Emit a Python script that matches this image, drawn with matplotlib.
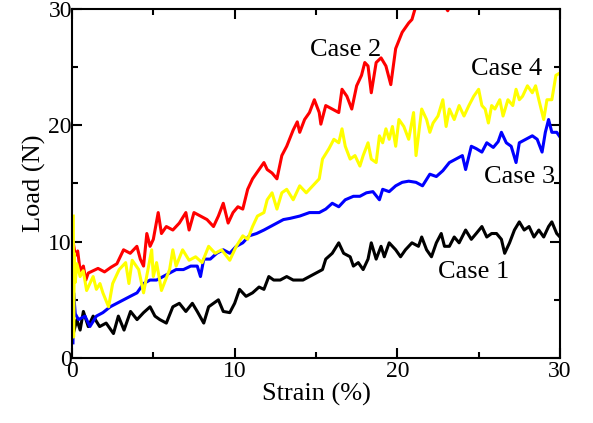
import matplotlib
matplotlib.use("Agg")
import matplotlib.pyplot as plt
from matplotlib.ticker import MultipleLocator

plt.rcParams['font.family'] = ['Liberation Serif', 'DejaVu Serif']

# Case 1 (black)
case1_x = [0.08, 0.3, 0.5, 0.7, 1.0, 1.3, 1.7, 2.1, 2.55, 2.85, 3.2, 3.6, 4.0, 4.4, 4.8, 5.1,
           5.4, 5.8, 6.2, 6.6, 7.0, 7.4, 7.7, 8.1, 8.4, 8.7, 9.0, 9.3, 9.7, 10.0, 10.3, 10.7,
           11.1, 11.5, 11.8, 12.1, 12.4, 12.8, 13.2, 13.6, 13.8, 14.2, 14.6, 15.0, 15.4, 15.6,
           16.0, 16.4, 16.7, 17.1, 17.3, 17.6, 17.9, 18.2, 18.4, 18.7, 19.0, 19.2, 19.5, 19.9,
           20.2, 20.5, 20.9, 21.3, 21.5, 21.8, 22.1, 22.4, 22.7, 22.9, 23.2, 23.5, 23.8, 24.2,
           24.55, 24.85, 25.2, 25.5, 25.8, 26.1, 26.4, 26.6, 26.9, 27.2, 27.5, 27.8, 28.1, 28.4,
           28.7, 29.0, 29.3, 29.5, 29.8, 30.0]
case1_y = [2.1, 3.3, 2.4, 4.0, 2.7, 3.6, 2.7, 3.0, 2.1, 3.6, 2.4, 4.0, 3.3, 3.9, 4.4, 3.6,
           3.3, 3.0, 4.4, 4.7, 4.0, 4.7, 4.0, 3.0, 4.4, 4.7, 5.0, 4.0, 3.9, 4.7, 5.9, 5.3,
           5.6, 6.1, 5.9, 7.0, 6.7, 6.7, 7.0, 6.7, 6.7, 6.7, 7.0, 7.3, 7.6, 8.5,
           9.0, 9.9, 9.0, 8.7, 7.9, 8.2, 7.6, 8.5, 9.9, 8.5, 9.6, 8.7, 9.9, 9.3,
           8.7, 9.3, 9.9, 9.6, 10.4, 9.3, 8.7, 9.9, 10.7, 9.6, 9.6, 10.4, 9.9, 11.0,
           10.2, 10.7, 11.3, 10.4, 10.7, 10.7, 10.2, 9.0, 9.9, 11.0, 11.7, 11.0, 11.3, 10.4,
           11.0, 10.4, 11.3, 11.7, 10.7, 10.4]

# Case 2 (red)
case2_x = [0.08, 0.2, 0.35, 0.5, 0.7, 0.85, 1.0, 1.3, 1.6, 2.0, 2.4, 2.76, 3.17, 3.58, 3.99,
           4.2, 4.4, 4.6, 4.8, 5.0, 5.3, 5.5, 5.8, 6.2, 6.6, 7.0, 7.2, 7.5, 7.9, 8.3, 8.7,
           9.0, 9.3, 9.6, 9.9, 10.2, 10.5, 10.8, 11.1, 11.5, 11.8, 12.0, 12.3, 12.6, 12.9,
           13.2, 13.6, 13.85, 14.0, 14.3, 14.6, 14.9, 15.2, 15.3, 15.6, 16.0, 16.4, 16.6,
           16.9, 17.2, 17.5, 17.8, 18.0, 18.2, 18.4, 18.7, 19.0, 19.3, 19.6, 19.9, 20.3,
           20.7, 20.9, 21.15, 21.5, 22.0, 22.6, 23.1, 23.6, 24.5]
case2_y = [9.9, 8.8, 9.2, 7.5, 7.9, 6.7, 7.3, 7.5, 7.7, 7.4, 7.8, 8.1, 9.3, 9.0, 9.6,
           8.5, 7.9, 10.7, 9.6, 10.2, 12.5, 10.7, 11.3, 11.0, 11.6, 12.5, 11.0, 12.5, 12.2, 11.9, 11.3,
           12.2, 13.3, 11.6, 12.5, 13.0, 12.8, 14.5, 15.4, 16.2, 16.8, 16.2, 15.9, 15.4, 17.4,
           18.2, 19.6, 20.3, 19.4, 20.5, 21.1, 22.2, 21.1, 20.1, 21.7, 21.4, 21.1, 23.1,
           22.5, 21.4, 23.4, 24.3, 25.4, 25.1, 22.8, 25.4, 25.8, 25.1, 23.5, 26.6, 28.0,
           28.8, 29.1, 30.3, 31.5, 32.0, 31.0, 29.85, 31.5, 33.0]

# Case 3 (blue)
case3_x = [0.06, 0.1, 0.2, 0.4, 0.8, 1.1, 1.5, 1.9, 2.35, 2.76, 3.17, 3.58, 4.0, 4.4, 4.8,
           5.2, 5.6, 6.0, 6.4, 6.85, 7.3, 7.7, 7.9, 8.1, 8.5, 8.9, 9.3, 9.7, 10.1, 10.5, 10.9,
           11.35, 11.8, 12.2, 12.6, 13.0, 13.4, 14.0, 14.6, 15.2, 15.6, 16.0, 16.4, 16.8,
           17.3, 17.7, 18.1, 18.5, 18.9, 19.1, 19.5, 19.9, 20.3, 20.7, 21.15, 21.55, 22.0,
           22.4, 22.8, 23.2, 23.6, 24.0, 24.2, 24.55, 24.85, 25.2, 25.5, 25.9, 26.2, 26.4,
           26.7, 27.0, 27.3, 27.5, 27.9, 28.3, 28.6, 28.9, 29.1, 29.3, 29.5, 29.8, 30.0]
case3_y = [1.3, 5.6, 3.8, 3.3, 3.6, 2.7, 3.6, 3.9, 4.4, 4.7, 5.0, 5.3, 5.6, 6.4, 6.7,
           6.7, 7.0, 7.3, 7.6, 7.6, 7.9, 7.9, 7.0, 8.5, 8.5, 9.0, 9.3, 9.0, 9.6, 9.9, 10.5,
           10.7, 11.0, 11.3, 11.6, 11.9, 12.0, 12.2, 12.5, 12.5, 12.8, 13.3, 13.0, 13.6,
           13.9, 13.9, 14.2, 14.3, 13.6, 14.5, 14.3, 14.8, 15.1, 15.2, 15.1, 14.8, 15.8,
           15.6, 16.1, 16.8, 17.1, 17.4, 16.2, 18.2, 18.0, 17.7, 18.5, 18.1, 18.6, 19.4,
           18.5, 18.2, 16.8, 18.5, 18.8, 19.1, 18.8, 17.7, 19.4, 20.5, 19.4, 19.4, 19.0]

# Case 4 (yellow)
case4_x = [0.08, 0.1, 0.14, 0.2, 0.3, 0.5, 0.69, 0.9, 1.3, 1.5, 1.72, 1.9, 2.25, 2.5, 2.9,
           3.3, 3.5, 3.7, 4.1, 4.4, 4.9, 5.0, 5.2, 5.5, 6.0, 6.2, 6.4, 6.8, 7.2, 7.6, 8.0,
           8.4, 8.8, 9.2, 9.7, 10.1, 10.5, 10.8, 11.1, 11.4, 11.8, 12.0, 12.3, 12.6, 12.9,
           13.2, 13.6, 14.0, 14.4, 14.8, 15.2, 15.4, 15.8, 16.1, 16.4, 16.6, 16.8, 17.1,
           17.4, 17.7, 17.9, 18.2, 18.4, 18.7, 18.9, 19.1, 19.3, 19.5, 19.7, 19.9, 20.1,
           20.4, 20.7, 21.0, 21.15, 21.5, 21.8, 22.0, 22.2, 22.5, 22.8, 23.0, 23.2, 23.5,
           23.8, 24.1, 24.4, 24.7, 25.0, 25.2, 25.4, 25.6, 25.8, 26.0, 26.3, 26.5, 26.8,
           27.1, 27.3, 27.5, 27.7, 28.0, 28.3, 28.5, 28.7, 29.0, 29.2, 29.5, 29.75, 30.0]
case4_y = [12.2, 1.8, 9.0, 6.5, 8.1, 7.0, 7.5, 5.8, 7.0, 5.9, 6.4, 5.6, 4.4, 6.4, 7.6,
           8.2, 6.4, 8.4, 7.6, 5.6, 9.3, 7.0, 8.2, 5.8, 7.6, 9.3, 7.9, 9.3, 8.4, 8.7, 8.2,
           9.6, 9.0, 9.3, 8.4, 9.6, 10.5, 10.2, 11.3, 12.2, 12.5, 13.6, 14.2, 12.8, 14.2,
           14.5, 13.6, 14.8, 14.2, 14.8, 15.4, 17.1, 18.0, 18.8, 18.5, 19.7, 18.2, 17.1,
           17.4, 16.5, 17.4, 18.5, 17.1, 16.8, 19.1, 18.5, 19.7, 18.8, 19.9, 18.2, 20.5,
           19.9, 18.8, 21.1, 17.4, 21.4, 20.5, 19.4, 20.2, 20.8, 22.2, 19.9, 21.4, 20.5,
           21.7, 20.8, 21.7, 22.5, 23.1, 21.7, 21.4, 20.2, 21.7, 21.4, 22.2, 20.8, 22.2,
           21.7, 23.1, 22.2, 22.5, 23.4, 22.8, 23.4, 22.2, 20.5, 22.2, 22.2, 24.3, 24.5]

fig = plt.figure(figsize=(5.93, 4.23), dpi=100)
ax = fig.add_axes([0.1214, 0.1537, 0.8229, 0.825])

ax.plot(case1_x, case1_y, color='black', lw=2.2)
ax.plot(case2_x, case2_y, color='red', lw=2.2)
ax.plot(case3_x, case3_y, color='blue', lw=2.2)
ax.plot(case4_x, case4_y, color='yellow', lw=2.2)

ax.set_xlim(0, 30)
ax.set_ylim(0, 30)
ax.xaxis.set_major_locator(MultipleLocator(10))
ax.xaxis.set_minor_locator(MultipleLocator(5))
ax.yaxis.set_major_locator(MultipleLocator(10))
ax.yaxis.set_minor_locator(MultipleLocator(5))
ax.tick_params(which='both', direction='in', top=True, right=True, width=1.5, labelsize=17)
ax.tick_params(which='major', length=7)
ax.tick_params(which='minor', length=4.5)
ax.tick_params(axis='y', pad=0)
ax.tick_params(axis='x', pad=2)
for s in ax.spines.values():
    s.set_linewidth(1.5)

ax.set_xlabel("Strain (%)", fontsize=19, labelpad=1)
ax.set_ylabel("Load (N)", fontsize=19, labelpad=2)

ax.text(16.8, 26.5, "Case 2", fontsize=19, ha='center', va='center')
ax.text(26.7, 24.8, "Case 4", fontsize=19, ha='center', va='center')
ax.text(27.5, 15.6, "Case 3", fontsize=19, ha='center', va='center')
ax.text(24.7, 7.4, "Case 1", fontsize=19, ha='center', va='center')

fig.savefig("out.png", dpi=100)
